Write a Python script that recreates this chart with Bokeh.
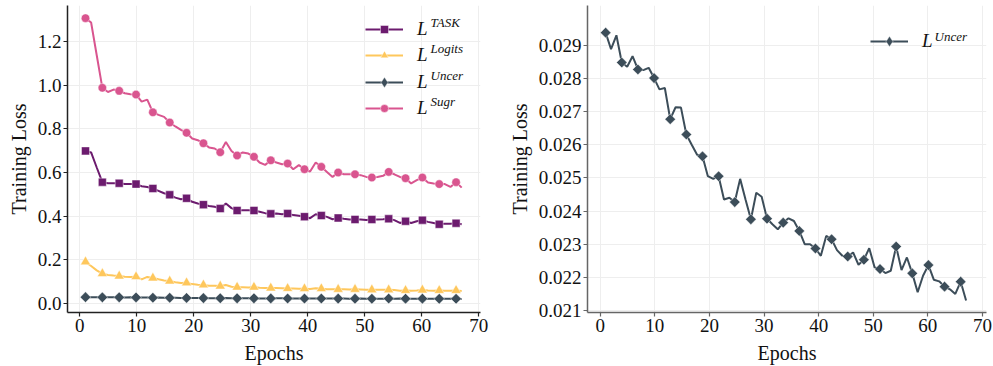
import numpy as np
from bokeh.plotting import figure
from bokeh.layouts import row
from bokeh.models import (Range1d, FixedTicker, NumeralTickFormatter, Legend,
                          LegendItem, Label, ColumnDataSource)
from bokeh.embed import file_html
from bokeh.resources import INLINE

# ---------------- data ----------------
epochs = np.linspace(1, 67, 68).tolist()   # sample positions along the epoch axis
marker_every = 3

task = [0.699, 0.692, 0.623, 0.556, 0.551, 0.551, 0.551, 0.547, 0.547, 0.547,
        0.537, 0.534, 0.527, 0.516, 0.505, 0.498, 0.485, 0.478, 0.482, 0.466,
        0.458, 0.453, 0.447, 0.443, 0.435, 0.458, 0.437, 0.426, 0.427, 0.427,
        0.426, 0.420, 0.414, 0.411, 0.412, 0.409, 0.412, 0.405, 0.402, 0.398,
        0.391, 0.409, 0.403, 0.397, 0.386, 0.392, 0.388, 0.385, 0.385, 0.385,
        0.383, 0.385, 0.385, 0.386, 0.388, 0.382, 0.369, 0.377, 0.369, 0.377,
        0.382, 0.374, 0.369, 0.363, 0.366, 0.365, 0.368, 0.363]

logits = [0.191, 0.172, 0.152, 0.137, 0.131, 0.128, 0.126, 0.123, 0.122, 0.123,
          0.111, 0.122, 0.117, 0.111, 0.106, 0.103, 0.098, 0.094, 0.095, 0.089,
          0.086, 0.085, 0.082, 0.082, 0.080, 0.085, 0.077, 0.075, 0.075, 0.074,
          0.075, 0.072, 0.071, 0.071, 0.071, 0.070, 0.069, 0.069, 0.068, 0.068,
          0.067, 0.070, 0.068, 0.066, 0.065, 0.065, 0.065, 0.064, 0.065, 0.064,
          0.063, 0.063, 0.063, 0.063, 0.063, 0.062, 0.059, 0.060, 0.059, 0.060,
          0.062, 0.060, 0.059, 0.060, 0.059, 0.059, 0.060, 0.058]

sugr = [1.307, 1.287, 1.137, 0.988, 0.969, 0.980, 0.974, 0.963, 0.959, 0.957,
        0.925, 0.934, 0.876, 0.864, 0.855, 0.829, 0.811, 0.795, 0.782, 0.756,
        0.748, 0.734, 0.715, 0.710, 0.693, 0.740, 0.699, 0.678, 0.692, 0.687,
        0.672, 0.646, 0.635, 0.656, 0.646, 0.638, 0.641, 0.615, 0.634, 0.615,
        0.605, 0.646, 0.626, 0.603, 0.580, 0.600, 0.592, 0.592, 0.592, 0.588,
        0.580, 0.577, 0.580, 0.585, 0.603, 0.592, 0.580, 0.574, 0.550, 0.565,
        0.577, 0.554, 0.550, 0.547, 0.547, 0.534, 0.556, 0.531]

uncer = [0.02938, 0.02888, 0.02930, 0.02848, 0.02835, 0.02867, 0.02827, 0.02825, 0.02832, 0.02801,
         0.02767, 0.02771, 0.02677, 0.02713, 0.02712, 0.02631, 0.02600, 0.02570, 0.02565, 0.02505,
         0.02497, 0.02505, 0.02435, 0.02440, 0.02427, 0.02497, 0.02435, 0.02375, 0.02455, 0.02443,
         0.02377, 0.02360, 0.02345, 0.02365, 0.02378, 0.02370, 0.02340, 0.02300, 0.02300, 0.02287,
         0.02265, 0.02325, 0.02315, 0.02282, 0.02265, 0.02263, 0.02275, 0.02238, 0.02253, 0.02288,
         0.02230, 0.02225, 0.02213, 0.02220, 0.02293, 0.02222, 0.02260, 0.02212, 0.02155, 0.02205,
         0.02237, 0.02193, 0.02188, 0.02172, 0.02164, 0.02150, 0.02187, 0.02130]

x_ticks = [0, 10, 20, 30, 40, 50, 60, 70]
left_y_ticks = [0.0, 0.2, 0.4, 0.6, 0.8, 1.0, 1.2]
right_y_ticks = [0.021, 0.022, 0.023, 0.024, 0.025, 0.026, 0.027, 0.028, 0.029]

series_names = ["TASK", "Logits", "Uncer", "Sugr"]
C_TASK, C_LOGITS, C_UNCER, C_SUGR = "#6c1b6e", "#fec75c", "#3c4d59", "#d9558f"

FONT = "Liberation Serif"


def style(p, axis_color):
    for ax in (p.xaxis[0], p.yaxis[0]):
        ax.axis_line_color = axis_color
        ax.axis_line_width = 1.5
        ax.major_tick_line_color = axis_color
        ax.major_tick_line_width = 1.2
        ax.major_tick_out = 4
        ax.major_tick_in = 0
        ax.minor_tick_line_color = None
        ax.major_label_text_font = FONT
        ax.major_label_text_font_size = "19px"
        ax.major_label_text_color = "#111111"
        ax.axis_label_text_font = FONT
        ax.axis_label_text_font_size = "20px"
        ax.axis_label_text_font_style = "normal"
        ax.axis_label_text_color = "#111111"
        ax.major_label_standoff = 2
    p.xaxis.axis_label_standoff = 7
    p.yaxis.axis_label_standoff = 5
    p.xgrid.grid_line_color = "#eeeeee"
    p.ygrid.grid_line_color = "#eeeeee"
    p.outline_line_color = None
    p.background_fill_color = "white"


def add_series(p, y, color, marker, size, angle=0.0, legend_marker=None):
    src = ColumnDataSource(dict(x=epochs, y=y))
    msrc = ColumnDataSource(dict(x=epochs[::marker_every], y=y[::marker_every]))
    l = p.line("x", "y", source=src, line_color=color, line_width=2)
    s = p.scatter("x", "y", source=msrc, marker=marker, size=size, angle=angle,
                  fill_color=color, line_color="white", line_alpha=0.45, line_width=1)
    if legend_marker is None:
        return [l, s]
    # legend-only sample (NaN point, never drawn on the plot) so the legend shows a diamond
    d = p.scatter(x=[float("nan")], y=[float("nan")], marker=legend_marker, size=size,
                  fill_color=color, line_color="white", line_alpha=0.45, line_width=1)
    return [l, d]


def one_row_legend(renderers, x, y, glyph_h):
    return Legend(items=[LegendItem(label="L", renderers=renderers)],
                  location=(x, y), orientation="vertical",
                  border_line_color=None, background_fill_alpha=0,
                  padding=0, margin=0, spacing=0, glyph_width=38, glyph_height=glyph_h,
                  label_height=20, label_standoff=14,
                  label_text_font=FONT, label_text_font_style="italic",
                  label_text_font_size="19px", label_text_color="#111111")


def sup(text, x, y):
    return Label(x=x, y=y, x_units="screen", y_units="screen", text=text,
                 text_font=FONT, text_font_style="italic", text_font_size="13px",
                 text_baseline="alphabetic", text_color="#111111")


# ---------------- left ----------------
p1 = figure(width=497, height=366, output_backend="svg", toolbar_location=None,
            x_range=Range1d(-2.158, 70.3), y_range=Range1d(-0.041, 1.365),
            min_border_left=67, min_border_right=17, min_border_top=5, min_border_bottom=54)
style(p1, "#222222")
p1.xaxis.axis_label = "Epochs"
p1.yaxis.axis_label = "Training Loss"
p1.xaxis.ticker = FixedTicker(ticks=x_ticks)
p1.yaxis.ticker = FixedTicker(ticks=left_y_ticks)
p1.yaxis.formatter = NumeralTickFormatter(format="0.0")

r_task = add_series(p1, task, C_TASK, "square", 8)
r_logits = add_series(p1, logits, C_LOGITS, "triangle", 10)
r_uncer1 = add_series(p1, uncer, C_UNCER, "square", 7.5, np.pi / 4, legend_marker="diamond")
r_sugr = add_series(p1, sugr, C_SUGR, "circle", 8.5)

# legend rows (screen offsets from the frame's bottom-left corner)
left_rows = [(r_task, 272.5, 20), (r_logits, 246.2, 20), (r_uncer1, 217.4, 26), (r_sugr, 193.5, 20)]
for rend, ly, gh in left_rows:
    p1.add_layout(one_row_legend(rend, 298, ly, gh))
for i, name in enumerate(series_names):
    p1.add_layout(sup(name, 363, 290 - 26.3 * i))

# ---------------- right ----------------
p2 = figure(width=496, height=366, output_backend="svg", toolbar_location=None,
            x_range=Range1d(-2.325, 70.74), y_range=Range1d(0.02094, 0.030199),
            min_border_left=90, min_border_right=7, min_border_top=5, min_border_bottom=52)
style(p2, "#666666")
p2.xaxis.axis_label = "Epochs"
p2.yaxis.axis_label = "Training Loss"
p2.xaxis.ticker = FixedTicker(ticks=x_ticks)
p2.yaxis.ticker = FixedTicker(ticks=right_y_ticks)
p2.yaxis.formatter = NumeralTickFormatter(format="0.000")

r_uncer2 = add_series(p2, uncer, C_UNCER, "square", 7.5, np.pi / 4, legend_marker="diamond")
p2.add_layout(one_row_legend(r_uncer2, 283, 258.5, 26))
p2.add_layout(sup("Uncer", 347, 276))

layout = row(p1, p2)
open("out.html", "w").write(file_html(layout, INLINE))
